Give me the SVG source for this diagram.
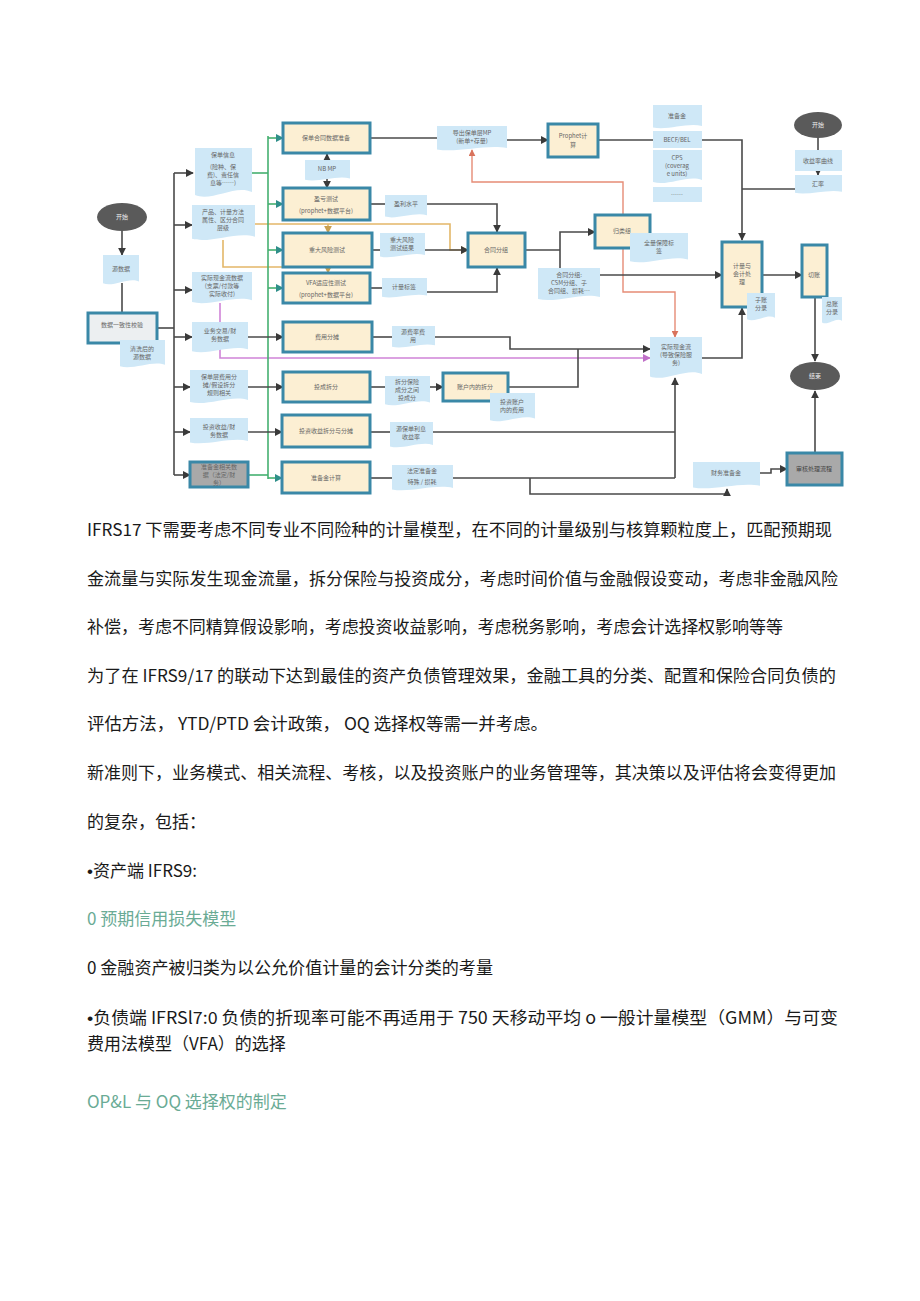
<svg xmlns="http://www.w3.org/2000/svg" xmlns:xlink="http://www.w3.org/1999/xlink" width="920" height="1301" viewBox="0 0 920 1301">
<style>
.doc{fill:#cfe8f7}
.box{fill:#fcefd3;stroke:#3a88a7;stroke-width:3}
.gbox{fill:#a9a9a9;stroke:#3a88a7;stroke-width:3}
.wbox{fill:#eceff1;stroke:#3a88a7;stroke-width:3}
.ell{fill:#5a5a5a}
.t{font-family:"Noto Sans CJK SC","Noto Sans",sans-serif;font-size:6px;fill:#666;text-anchor:middle}
.tw{font-family:"Noto Sans CJK SC","Noto Sans",sans-serif;font-size:6px;fill:#eee;text-anchor:middle}
.p{font-family:"Noto Sans CJK SC","Noto Sans",sans-serif;font-size:17px;fill:#1a1a1a}
.pg{font-family:"Noto Sans CJK SC","Noto Sans",sans-serif;font-size:17px;fill:#6aab95}
.b{font-family:"Liberation Sans",sans-serif}
.k{fill:none;stroke:#4a4a4a;stroke-width:1.6}
.g{fill:none;stroke:#45b070;stroke-width:1.6}
.o{fill:none;stroke:#e3b768;stroke-width:1.6}
.r{fill:none;stroke:#e68c76;stroke-width:1.4}
.m{fill:none;stroke:#d084d8;stroke-width:1.6}
</style>
<defs>
<symbol id="doc" viewBox="0 0 100 100" preserveAspectRatio="none"><path d="M0 0H100V88C70 72 30 108 0 94Z"/></symbol>
<marker id="ak" viewBox="0 0 10 10" refX="9" refY="5" markerWidth="5" markerHeight="5" orient="auto"><path d="M0 0L10 5L0 10Z" fill="#3a3a3a"/></marker>
<marker id="ag" viewBox="0 0 10 10" refX="9" refY="5" markerWidth="5" markerHeight="5" orient="auto"><path d="M0 0L10 5L0 10Z" fill="#2f8f8a"/></marker>
<marker id="ao" viewBox="0 0 10 10" refX="9" refY="5" markerWidth="5" markerHeight="5" orient="auto"><path d="M0 0L10 5L0 10Z" fill="#c9a050"/></marker>
<marker id="ar" viewBox="0 0 10 10" refX="9" refY="5" markerWidth="5" markerHeight="5" orient="auto"><path d="M0 0L10 5L0 10Z" fill="#d9735c"/></marker>
<marker id="am" viewBox="0 0 10 10" refX="9" refY="5" markerWidth="5" markerHeight="5" orient="auto"><path d="M0 0L10 5L0 10Z" fill="#c070c8"/></marker>
</defs>
<rect width="920" height="1301" fill="#ffffff"/>

<g id="connectors">
<path class="m" d="M220 303V358H650" marker-end="url(#am)"/>
<path class="o" d="M255 224H450V250H468" marker-end="url(#ao)"/>
<path class="o" d="M328 224V233" marker-end="url(#ao)"/>
<path class="o" d="M223 240V267H328V273" marker-end="url(#ao)"/>
<path class="r" d="M623 215V182H472V150" marker-end="url(#ar)"/>
<path class="r" d="M623 248V292H675V337" marker-end="url(#ar)"/>
<path class="g" d="M268 136V479"/>
<path class="g" d="M252 173H268"/>
<path class="g" d="M248 475H268"/>
<path class="g" d="M268 138H283" marker-end="url(#ag)"/>
<path class="g" d="M268 204H283" marker-end="url(#ag)"/>
<path class="g" d="M268 250H283" marker-end="url(#ag)"/>
<path class="g" d="M268 288H283" marker-end="url(#ag)"/>
<path class="g" d="M268 478H282" marker-end="url(#ag)"/>
<path class="k" d="M122 231V255" marker-end="url(#ak)"/>
<path class="k" d="M122 283V313"/>
<path class="k" d="M157 328H174"/>
<path class="k" d="M174 173V475"/>
<path class="k" d="M174 173H193" marker-end="url(#ak)"/>
<path class="k" d="M174 225H192" marker-end="url(#ak)"/>
<path class="k" d="M174 290H192" marker-end="url(#ak)"/>
<path class="k" d="M174 337H192" marker-end="url(#ak)"/>
<path class="k" d="M174 387H190" marker-end="url(#ak)"/>
<path class="k" d="M174 432H190" marker-end="url(#ak)"/>
<path class="k" d="M174 475H190" marker-end="url(#ak)"/>
<path class="k" d="M248 337H283" marker-end="url(#ak)"/>
<path class="k" d="M248 387H283" marker-end="url(#ak)"/>
<path class="k" d="M248 432H282" marker-end="url(#ak)"/>
<path class="k" d="M370 138H437"/>
<path class="k" d="M507 140H548" marker-end="url(#ak)"/>
<path class="k" d="M598 140H653"/>
<path class="k" d="M702 140H742V240" marker-end="url(#ak)"/>
<path class="k" d="M818 138V150"/>
<path class="k" d="M818 170V175" marker-end="url(#ak)"/>
<path class="k" d="M795 189H742"/>
<path class="k" d="M327 162V154" marker-end="url(#ak)"/>
<path class="k" d="M327 179V188" marker-end="url(#ak)"/>
<path class="k" d="M370 204H385"/>
<path class="k" d="M427 204H497V232" marker-end="url(#ak)"/>
<path class="k" d="M372 250H380"/>
<path class="k" d="M425 250H468" marker-end="url(#ak)"/>
<path class="k" d="M370 288H382"/>
<path class="k" d="M427 292H497V268" marker-end="url(#ak)"/>
<path class="k" d="M525 250H560"/>
<path class="k" d="M560 268V232H595" marker-end="url(#ak)"/>
<path class="k" d="M600 275H722" marker-end="url(#ak)"/>
<path class="k" d="M762 275H802" marker-end="url(#ak)"/>
<path class="k" d="M702 358H742V308" marker-end="url(#ak)"/>
<path class="k" d="M372 337H392"/>
<path class="k" d="M435 337H510V349H650" marker-end="url(#ak)"/>
<path class="k" d="M370 387H385"/>
<path class="k" d="M430 387H443" marker-end="url(#ak)"/>
<path class="k" d="M508 387H578V349"/>
<path class="k" d="M370 432H390"/>
<path class="k" d="M433 432H675"/>
<path class="k" d="M370 478H392"/>
<path class="k" d="M453 478H675"/>
<path class="k" d="M675 478V378" marker-end="url(#ak)"/>
<path class="k" d="M530 478V494H727V489" marker-end="url(#ak)"/>
<path class="k" d="M760 473H771V469H787" marker-end="url(#ak)"/>
<path class="k" d="M815 453V391" marker-end="url(#ak)"/>
<path class="k" d="M815 297V361" marker-end="url(#ak)"/>
</g>

<g id="start1"><ellipse class="ell" cx="122" cy="217" rx="25" ry="14"/><text class="tw" x="122" y="219">开始</text></g>
<g id="srcdata"><use href="#doc" class="doc" x="103" y="255" width="36" height="30"/><text class="t" x="121" y="271">源数据</text></g>
<g id="check"><rect class="wbox" x="88" y="313" width="69" height="30"/><text class="t" x="122" y="327">数据一致性校验</text></g>
<g id="cleaned"><use href="#doc" class="doc" x="120" y="340" width="45" height="28"/><text class="t" x="142" y="351">清洗后的</text><text class="t" x="142" y="359">源数据</text></g>

<g id="d1"><use href="#doc" class="doc" x="195" y="148" width="57" height="50"/><text class="t" x="223" y="157">保单信息</text><text class="t" x="223" y="169">(险种、保</text><text class="t" x="223" y="177">费)、责任信</text><text class="t" x="223" y="185">息等……)</text></g>
<g id="d2"><use href="#doc" class="doc" x="192" y="205" width="63" height="36"/><text class="t" x="223" y="214">产品、计量方法</text><text class="t" x="223" y="222">属性、区分合同</text><text class="t" x="223" y="230">层级</text></g>
<g id="d3"><use href="#doc" class="doc" x="192" y="272" width="60" height="32"/><text class="t" x="222" y="280">实际现金流数据</text><text class="t" x="222" y="288">(支票/付款等</text><text class="t" x="222" y="296">实际收付)</text></g>
<g id="d4"><use href="#doc" class="doc" x="192" y="322" width="56" height="31"/><text class="t" x="220" y="333">业务交易/财</text><text class="t" x="220" y="341">务数据</text></g>
<g id="d5"><use href="#doc" class="doc" x="190" y="370" width="58" height="34"/><text class="t" x="219" y="379">保单层费用分</text><text class="t" x="219" y="387">摊/假设拆分</text><text class="t" x="219" y="395">规则相关</text></g>
<g id="d6"><use href="#doc" class="doc" x="190" y="418" width="58" height="26"/><text class="t" x="219" y="429">投资收益/财</text><text class="t" x="219" y="437">务数据</text></g>
<g id="d7"><rect class="gbox" x="190" y="462" width="58" height="25"/><text class="t" x="219" y="469">准备金相关数</text><text class="t" x="219" y="477">据（法定/财</text><text class="t" x="219" y="485">务）</text></g>

<g id="nA"><rect class="box" x="283" y="123" width="87" height="30"/><text class="t" x="326" y="140">保单合同数据准备</text></g>
<g id="nbmp"><use href="#doc" class="doc" x="305" y="160" width="45" height="21"/><text class="t" x="327" y="171">NB MP</text></g>
<g id="nB"><rect class="box" x="283" y="188" width="87" height="32"/><text class="t" x="326" y="201">盈亏测试</text><text class="t" x="326" y="213">(prophet+数据平台)</text></g>
<g id="nC"><rect class="box" x="283" y="233" width="89" height="34"/><text class="t" x="327" y="252">重大风险测试</text></g>
<g id="nD"><rect class="box" x="283" y="273" width="87" height="30"/><text class="t" x="326" y="285">VFA适应性测试</text><text class="t" x="326" y="297">(prophet+数据平台)</text></g>
<g id="nE"><rect class="box" x="283" y="322" width="89" height="30"/><text class="t" x="327" y="339">费用分摊</text></g>
<g id="nF"><rect class="box" x="283" y="372" width="87" height="30"/><text class="t" x="326" y="389">投成拆分</text></g>
<g id="nG"><rect class="box" x="282" y="415" width="88" height="32"/><text class="t" x="326" y="433">投资收益拆分与分摊</text></g>
<g id="nH"><rect class="box" x="282" y="462" width="88" height="31"/><text class="t" x="326" y="480">准备金计算</text></g>

<g id="profit"><use href="#doc" class="doc" x="385" y="195" width="42" height="23"/><text class="t" x="406" y="206">盈利水平</text></g>
<g id="riskres"><use href="#doc" class="doc" x="380" y="233" width="45" height="25"/><text class="t" x="402" y="242">重大风险</text><text class="t" x="402" y="250">测试结果</text></g>
<g id="tag"><use href="#doc" class="doc" x="382" y="278" width="45" height="20"/><text class="t" x="404" y="289">计量标签</text></g>
<g id="feesrc"><use href="#doc" class="doc" x="392" y="326" width="43" height="22"/><text class="t" x="413" y="334">源费率费</text><text class="t" x="413" y="342">用</text></g>
<g id="split"><use href="#doc" class="doc" x="385" y="376" width="45" height="30"/><text class="t" x="407" y="384">拆分保险</text><text class="t" x="407" y="392">成分之间</text><text class="t" x="407" y="400">投成分</text></g>
<g id="acct"><rect class="box" x="443" y="373" width="65" height="28"/><text class="t" x="475" y="389">账户内的拆分</text></g>
<g id="acctfee"><use href="#doc" class="doc" x="490" y="393" width="45" height="29"/><text class="t" x="512" y="404">投资账户</text><text class="t" x="512" y="412">内的费用</text></g>
<g id="yield"><use href="#doc" class="doc" x="390" y="422" width="43" height="26"/><text class="t" x="411" y="431">源保单利息</text><text class="t" x="411" y="439">收益率</text></g>
<g id="statres"><use href="#doc" class="doc" x="392" y="465" width="61" height="26"/><text class="t" x="422" y="473">法定准备金</text><text class="t" x="422" y="484">特殊 / 损耗</text></g>

<g id="mp"><use href="#doc" class="doc" x="437" y="126" width="70" height="25"/><text class="t" x="472" y="135">导出保单层MP</text><text class="t" x="472" y="143">(新单+存量)</text></g>
<g id="prophet"><rect class="box" x="548" y="124" width="50" height="33"/><text class="t" x="573" y="138">Prophet计</text><text class="t" x="573" y="147">算</text></g>
<g id="group"><rect class="box" x="468" y="233" width="57" height="34"/><text class="t" x="496" y="252">合同分组</text></g>
<g id="gdoc"><use href="#doc" class="doc" x="538" y="268" width="62" height="33"/><text class="t" x="569" y="277">合同分组:</text><text class="t" x="569" y="285">CSM分组、子</text><text class="t" x="569" y="293">合同组、损耗…</text></g>
<g id="cls"><rect class="box" x="595" y="215" width="55" height="33"/><text class="t" x="622" y="233">归类组</text></g>
<g id="fulltag"><use href="#doc" class="doc" x="630" y="233" width="58" height="30"/><text class="t" x="659" y="245">全量保障标</text><text class="t" x="659" y="253">签</text></g>

<g id="stack"><use href="#doc" class="doc" x="653" y="105" width="49" height="24"/><text class="t" x="677" y="118">准备金</text>
<rect class="doc" x="653" y="131" width="49" height="17"/><text class="t" x="677" y="142">BECF/BEL</text>
<use href="#doc" class="doc" x="653" y="150" width="49" height="34"/><text class="t" x="677" y="160">CPS</text><text class="t" x="677" y="168">(coverag</text><text class="t" x="677" y="176">e units)</text>
<rect class="doc" x="653" y="187" width="49" height="15"/><text class="t" x="677" y="197">……</text></g>

<g id="start2"><ellipse class="ell" cx="818" cy="125" rx="24" ry="13"/><text class="tw" x="818" y="127">开始</text></g>
<g id="curve"><rect class="doc" x="795" y="150" width="47" height="21"/><text class="t" x="818" y="163">收益率曲线</text></g>
<g id="fx"><use href="#doc" class="doc" x="795" y="175" width="47" height="19"/><text class="t" x="818" y="186">汇率</text></g>
<g id="acc"><rect class="box" x="722" y="242" width="40" height="65"/><text class="t" x="742" y="268">计量与</text><text class="t" x="742" y="276">会计处</text><text class="t" x="742" y="284">理</text></g>
<g id="sub"><use href="#doc" class="doc" x="747" y="293" width="28" height="28"/><text class="t" x="761" y="302">子账</text><text class="t" x="761" y="310">分录</text></g>
<g id="cut"><rect class="box" x="802" y="245" width="25" height="52"/><text class="t" x="814" y="277">切账</text></g>
<g id="gl"><use href="#doc" class="doc" x="822" y="297" width="20" height="27"/><text class="t" x="832" y="306">总账</text><text class="t" x="832" y="314">分录</text></g>
<g id="cash"><use href="#doc" class="doc" x="650" y="337" width="52" height="42"/><text class="t" x="676" y="349">实际现金流</text><text class="t" x="676" y="357">(导致保险服</text><text class="t" x="676" y="365">务)</text></g>
<g id="end"><ellipse class="ell" cx="815" cy="376" rx="25" ry="14"/><text class="tw" x="815" y="378">结束</text></g>
<g id="audit"><rect class="gbox" x="787" y="453" width="55" height="32"/><text class="t" x="814" y="471" style="fill:#444">审核处理流程</text></g>
<g id="finres"><use href="#doc" class="doc" x="693" y="462" width="67" height="27"/><text class="t" x="726" y="475">财务准备金</text></g>

<g id="body">
<text class="p" x="87" y="536" textLength="745" lengthAdjust="spacingAndGlyphs">IFRS17 下需要考虑不同专业不同险种的计量模型，在不同的计量级别与核算颗粒度上，匹配预期现</text>
<text class="p" x="87" y="585" textLength="751" lengthAdjust="spacingAndGlyphs">金流量与实际发生现金流量，拆分保险与投资成分，考虑时间价值与金融假设变动，考虑非金融风险</text>
<text class="p" x="87" y="633" textLength="696" lengthAdjust="spacingAndGlyphs">补偿，考虑不同精算假设影响，考虑投资收益影响，考虑税务影响，考虑会计选择权影响等等</text>
<text class="p" x="87" y="682" textLength="749" lengthAdjust="spacingAndGlyphs">为了在 IFRS9/17 的联动下达到最佳的资产负债管理效果，金融工具的分类、配置和保险合同负债的</text>
<text class="p" x="87" y="730" textLength="461" lengthAdjust="spacingAndGlyphs">评估方法， YTD/PTD 会计政策， OQ 选择权等需一并考虑。</text>
<text class="p" x="87" y="779" textLength="749" lengthAdjust="spacingAndGlyphs">新准则下，业务模式、相关流程、考核，以及投资账户的业务管理等，其决策以及评估将会变得更加</text>
<text class="p" x="87" y="828">的复杂，包括：</text>
<text class="p" x="87" y="877"><tspan class="b">•</tspan>资产端 IFRS9:</text>
<text class="pg" x="87" y="925">0 预期信用损失模型</text>
<text class="p" x="87" y="974" textLength="406" lengthAdjust="spacingAndGlyphs">0 金融资产被归类为以公允价值计量的会计分类的考量</text>
<text class="p" x="87" y="1024" textLength="751" lengthAdjust="spacingAndGlyphs"><tspan class="b">•</tspan>负债端 IFRSl7:0 负债的折现率可能不再适用于 750 天移动平均 o 一般计量模型（GMM）与可变</text>
<text class="p" x="87" y="1050">费用法模型（VFA）的选择</text>
<text class="pg" x="87" y="1108">OP&amp;L 与 OQ 选择权的制定</text>
</g>
</svg>
